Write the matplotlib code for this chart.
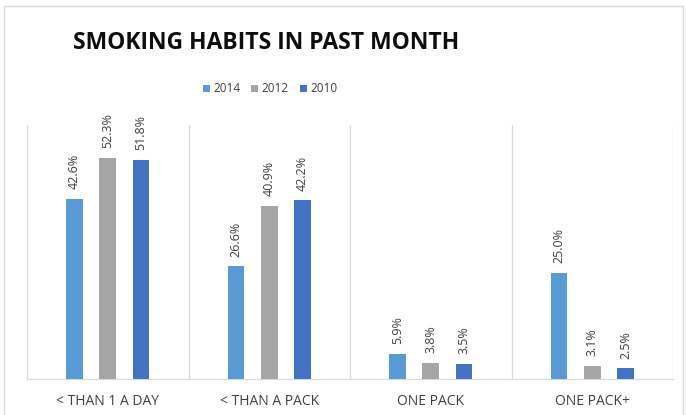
import numpy as np
import matplotlib.pyplot as plt
from matplotlib.lines import Line2D
from matplotlib.patches import Patch

plt.rcParams['font.family'] = ['Open Sans', 'DejaVu Sans']

categories = ['< THAN 1 A DAY', '< THAN A PACK', 'ONE PACK', 'ONE PACK+']
years = ['2014', '2012', '2010']
vals_2014 = [42.6, 26.6, 5.9, 25.0]
vals_2012 = [52.3, 40.9, 3.8, 3.1]
vals_2010 = [51.8, 42.2, 3.5, 2.5]
colors = ['#5B9BD5', '#A5A5A5', '#4472C4']

fig = plt.figure(figsize=(6.86, 4.15), dpi=100)
ax = fig.add_axes([27/686, 1 - 379/415, (673 - 27)/686, (379 - 125)/415])

x = np.arange(len(categories))
offsets = [-0.206, 0, 0.206]
width = 0.105
for vals, off, c in zip([vals_2014, vals_2012, vals_2010], offsets, colors):
    bars = ax.bar(x + off, vals, width=width, color=c, zorder=3)
    for b, v in zip(bars, vals):
        ax.annotate('%.1f%%' % v, (b.get_x() + b.get_width()/2, v),
                    xytext=(0, 7), textcoords='offset points',
                    rotation=90, ha='center', va='bottom',
                    fontsize=9, color='#404040')

ax.set_xlim(-0.5, 3.5)
ax.set_ylim(0, 60)
for s in ['top', 'right', 'left']:
    ax.spines[s].set_visible(False)
ax.spines['bottom'].set_color('#D9D9D9')
for sep in np.arange(-0.5, 4, 1):
    ax.axvline(sep, color='#D9D9D9', lw=0.9, zorder=1)
ax.set_yticks([])
ax.set_xticks(x)
ax.set_xticklabels(categories, fontsize=10, color='#404040')
ax.tick_params(axis='x', length=0, pad=11)

fig.text(266/686, 1 - 43/415, 'SMOKING HABITS IN PAST MONTH', ha='center', va='center',
         fontsize=16.5, fontweight='bold', color='#0D0D0D')

handles = [Patch(facecolor=c) for c in colors]
fig.legend(handles, years, loc='center', bbox_to_anchor=(270/686, 1 - 89/415),
           ncol=3, frameon=False, fontsize=8.5, handlelength=0.6, handleheight=0.6,
           handletextpad=0.3, columnspacing=0.9, labelcolor='#404040')

# outer frame
fig.add_artist(Line2D([4/686, 4/686], [0, 1 - 6/415], transform=fig.transFigure, color='#D9D9D9', lw=1))
fig.add_artist(Line2D([4/686, 683/686], [1 - 6/415, 1 - 6/415], transform=fig.transFigure, color='#D9D9D9', lw=1))
fig.add_artist(Line2D([683/686, 683/686], [0, 1 - 6/415], transform=fig.transFigure, color='#D9D9D9', lw=1))

fig.savefig('out.png', dpi=100)
